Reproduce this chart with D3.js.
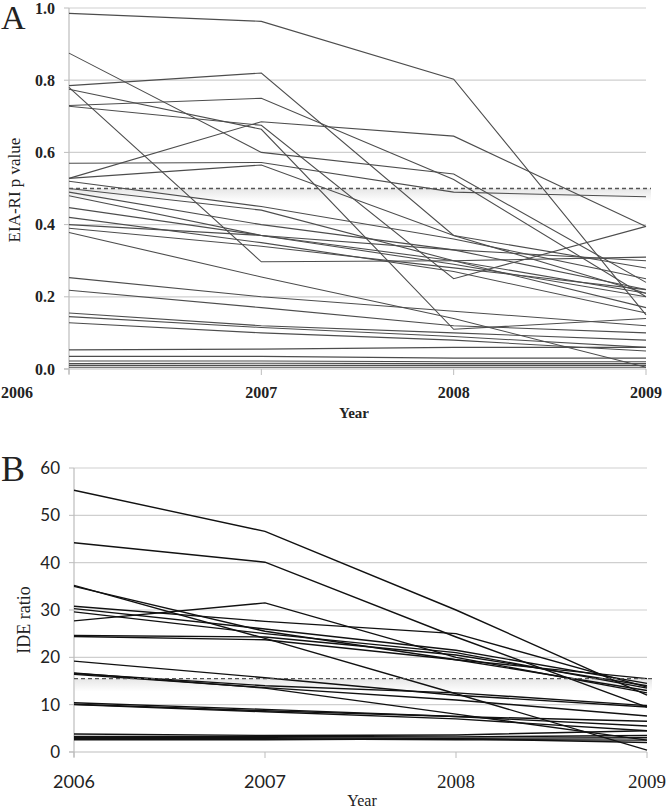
<!DOCTYPE html>
<html>
<head>
<meta charset="utf-8">
<script src="https://cdn.jsdelivr.net/npm/d3@7"></script>
<style>
  body { margin: 0; background: #fff; }
  svg { display: block; }
  .grid line { stroke: #cfcfcf; stroke-width: 1.2; }
  .tickA { font-family: "Liberation Serif", serif; font-size: 16px; fill: #222; }
  .tickB { font-family: Lato, "Open Sans", sans-serif; font-size: 17px; fill: #222; }
  .serif { font-family: "Liberation Serif", serif; fill: #222; }
</style>
</head>
<body>
<svg id="chart" width="666" height="811"></svg>
<script>
const years = ['2006', '2007', '2008', '2009'];

// panel A: EIA-RI p value per subject
const pValues = [
  [0.985, 0.963, 0.803, 0.15],
  [0.875, 0.60, 0.54, 0.24],
  [0.785, 0.82, 0.37, 0.21],
  [0.78, 0.297, 0.30, 0.31],
  [0.73, 0.75, 0.525, 0.20],
  [0.775, 0.664, 0.11, 0.14],
  [0.728, 0.675, 0.25, 0.395],
  [0.528, 0.685, 0.645, 0.395],
  [0.57, 0.572, 0.49, 0.477],
  [0.528, 0.565, 0.37, 0.28],
  [0.52, 0.45, 0.36, 0.25],
  [0.50, 0.44, 0.30, 0.21],
  [0.49, 0.40, 0.33, 0.22],
  [0.48, 0.37, 0.29, 0.20],
  [0.447, 0.37, 0.30, 0.17],
  [0.42, 0.35, 0.27, 0.155],
  [0.40, 0.37, 0.33, 0.30],
  [0.39, 0.34, 0.28, 0.22],
  [0.378, 0.255, 0.14, 0.005],
  [0.253, 0.20, 0.16, 0.12],
  [0.218, 0.17, 0.12, 0.10],
  [0.155, 0.12, 0.10, 0.08],
  [0.145, 0.115, 0.09, 0.06],
  [0.128, 0.10, 0.08, 0.05],
  [0.053, 0.055, 0.06, 0.06],
  [0.035, 0.035, 0.03, 0.03],
  [0.022, 0.022, 0.02, 0.02],
  [0.015, 0.016, 0.015, 0.015],
  [0.01, 0.01, 0.01, 0.01],
  [0.005, 0.005, 0.005, 0.005]
];
const pThreshold = 0.5;
const pTicks = [0, 0.2, 0.4, 0.6, 0.8, 1.0];

// panel B: IDE ratio per subject
const ideValues = [
  [55.3, 46.6, 30.0, 12.0],
  [44.2, 40.1, 24.3, 9.5],
  [35.2, 24.0, 12.3, 0.4],
  [35.0, 25.5, 19.5, 13.0],
  [30.8, 27.6, 25.0, 13.7],
  [30.3, 26.0, 21.5, 14.5],
  [29.6, 25.0, 21.0, 13.5],
  [27.7, 31.5, 20.0, 12.5],
  [24.6, 24.3, 20.5, 14.0],
  [24.4, 23.7, 19.5, 15.5],
  [19.2, 15.7, 12.0, 9.5],
  [16.7, 13.5, 8.0, 2.5],
  [16.6, 14.0, 12.5, 9.8],
  [16.4, 13.6, 11.0, 7.6],
  [10.4, 9.0, 7.5, 6.5],
  [10.1, 8.7, 7.5, 5.5],
  [10.0, 8.5, 7.0, 4.5],
  [3.8, 3.5, 3.6, 4.5],
  [3.3, 3.3, 3.2, 3.5],
  [3.0, 3.0, 2.9, 3.0],
  [2.8, 2.8, 2.6, 2.5],
  [2.6, 2.6, 2.8, 2.0]
];
const ideThreshold = 15.5;
const ideTicks = [0, 10, 20, 30, 40, 50, 60];

const svg = d3.select('#chart');

function panel(opt) {
  const g = svg.append('g');
  const x = d3.scalePoint().domain(years).range([opt.left, opt.right]);
  const y = d3.scaleLinear().domain(opt.domain).range([opt.bottom, opt.top]);

  // gridlines
  g.append('g').attr('class', 'grid')
    .selectAll('line').data(opt.ticks.slice(1)).join('line')
    .attr('x1', opt.left).attr('x2', opt.right)
    .attr('y1', d => y(d)).attr('y2', d => y(d));

  // axis lines
  g.append('line').attr('x1', opt.left).attr('x2', opt.left)
    .attr('y1', opt.top).attr('y2', opt.bottom + 5)
    .attr('stroke', '#bdbdbd').attr('stroke-width', 1.2);
  g.append('line').attr('x1', opt.left - 5).attr('x2', opt.right)
    .attr('y1', opt.bottom).attr('y2', opt.bottom)
    .attr('stroke', '#bdbdbd').attr('stroke-width', 1.2);
  g.selectAll('.xt').data(years).join('line')
    .attr('x1', d => x(d)).attr('x2', d => x(d))
    .attr('y1', opt.bottom).attr('y2', opt.bottom + 6)
    .attr('stroke', '#bdbdbd');
  g.selectAll('.yt').data(opt.ticks).join('line')
    .attr('x1', opt.left - 5).attr('x2', opt.left)
    .attr('y1', d => y(d)).attr('y2', d => y(d))
    .attr('stroke', '#bdbdbd');

  // faint shadow band under threshold
  const grad = svg.append('defs').append('linearGradient')
    .attr('id', 'band' + opt.id).attr('x1', 0).attr('x2', 0).attr('y1', 0).attr('y2', 1);
  grad.append('stop').attr('offset', 0).attr('stop-color', '#e6e6e6');
  grad.append('stop').attr('offset', 1).attr('stop-color', '#ffffff');
  g.append('rect').attr('x', opt.left + 1).attr('width', opt.right - opt.left + 4)
    .attr('y', y(opt.threshold)).attr('height', 13)
    .attr('fill', 'url(#band' + opt.id + ')');

  // subject lines
  const line = d3.line().x((d, i) => x(years[i])).y(d => y(d));
  g.append('g').selectAll('path').data(opt.values).join('path')
    .attr('d', line).attr('fill', 'none')
    .attr('stroke', opt.color).attr('stroke-width', opt.width);

  // threshold
  g.append('line').attr('x1', opt.left).attr('x2', opt.right + 5)
    .attr('y1', y(opt.threshold)).attr('y2', y(opt.threshold))
    .attr('stroke', '#555').attr('stroke-width', 1.3)
    .attr('stroke-dasharray', '4,3');

  return { x, y, g };
}

// Panel A
const A = panel({
  id: 'A', left: 69, right: 646, top: 8, bottom: 369,
  domain: [0, 1], ticks: pTicks, values: pValues, threshold: pThreshold,
  color: '#4d4d4d', width: 1.1
});
A.g.selectAll('.yl').data(pTicks).join('text').attr('class', 'tickA')
  .attr('x', 55).attr('y', d => A.y(d) + 5.5).attr('text-anchor', 'end')
  .style('font-weight', 'bold')
  .text(d => d.toFixed(1));
A.g.selectAll('.xl').data(years).join('text').attr('class', 'tickA')
  .attr('x', (d, i) => i === 0 ? 1 : A.x(d))
  .attr('y', 398)
  .attr('text-anchor', (d, i) => i === 0 ? 'start' : 'middle')
  .style('font-weight', 'bold')
  .text(d => d);
svg.append('text').attr('class', 'serif').attr('x', 354).attr('y', 418)
  .attr('text-anchor', 'middle').style('font-size', '15px').style('font-weight', 'bold')
  .text('Year');
svg.append('text').attr('class', 'serif')
  .attr('transform', 'translate(20,190) rotate(-90)')
  .attr('text-anchor', 'middle').style('font-size', '17px')
  .text('EIA-RI p value');
svg.append('text').attr('class', 'serif').attr('x', 1).attr('y', 29)
  .style('font-size', '34px').text('A');

// Panel B
const B = panel({
  id: 'B', left: 74, right: 647, top: 468, bottom: 752,
  domain: [0, 60], ticks: ideTicks, values: ideValues, threshold: ideThreshold,
  color: '#111', width: 1.4
});
B.g.selectAll('.yl').data(ideTicks).join('text').attr('class', 'tickB')
  .attr('x', 60).attr('y', d => B.y(d) + 6).attr('text-anchor', 'end')
  .text(d => d);
B.g.selectAll('.xl').data(years).join('text')
  .attr('class', (d, i) => i < 2 ? 'tickB' : 'serif')
  .style('font-size', (d, i) => i < 2 ? '18px' : '19px')
  .attr('x', d => B.x(d)).attr('y', 788)
  .attr('text-anchor', 'middle')
  .text(d => d);
svg.append('text').attr('class', 'serif').attr('x', 362).attr('y', 806)
  .attr('text-anchor', 'middle').style('font-size', '16px')
  .text('Year');
svg.append('text').attr('class', 'serif')
  .attr('transform', 'translate(30,620) rotate(-90)')
  .attr('text-anchor', 'middle').style('font-size', '18px')
  .text('IDE ratio');
svg.append('text').attr('class', 'serif').attr('x', 1).attr('y', 481)
  .style('font-size', '36px').text('B');
</script>
</body>
</html>
